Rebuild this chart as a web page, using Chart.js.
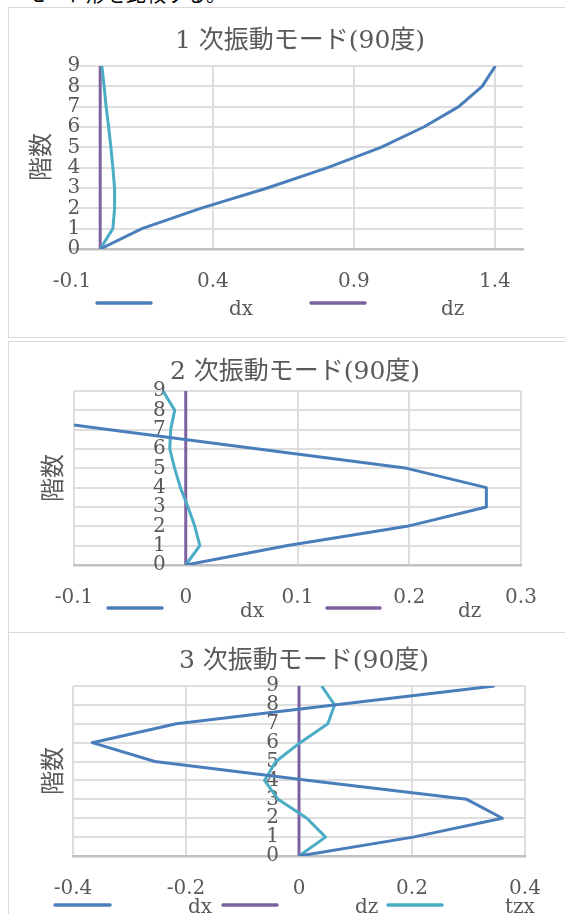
<!DOCTYPE html>
<html>
<head>
<meta charset="utf-8">
<script src="https://cdn.jsdelivr.net/npm/chart.js@4.4.1/dist/chart.umd.min.js"></script>
<style>
html, body { margin: 0; padding: 0; background: #fff; }
body { width: 565px; height: 914px; overflow: hidden; position: relative; }
.frame { position: absolute; left: 8px; width: 620px; box-sizing: border-box; border: 1px solid #d9d9d9; border-right: none; }
canvas { position: absolute; left: 8px; }
.doc { position: absolute; left: 26px; top: -16px; font: 20px "Noto Sans CJK JP"; line-height: 20px; color: #000; white-space: nowrap; }
</style>
</head>
<body>
<div class="doc">モード形を比較する。</div>
<div class="frame" style="top:7px;height:331px"></div>
<div class="frame" style="top:341px;height:292px"></div>
<div class="frame" style="top:632px;height:300px"></div>
<canvas id="c1" width="584" height="331" style="top:7px"></canvas>
<canvas id="c2" width="584" height="291" style="top:341px"></canvas>
<canvas id="c3" width="584" height="282" style="top:632px"></canvas>
<script>
// 階数 (y) and series names
const floors = [0, 1, 2, 3, 4, 5, 6, 7, 8, 9];
const floorTicks = [0, 1, 2, 3, 4, 5, 6, 7, 8, 9];
const seriesNames = ['dx', 'dz', 'tzx'];
const seriesColors = ['#4a7ebb', '#7d60a0', '#4bacc6'];

// 1次振動モード
const mode1Dx = [0, 0.148, 0.356, 0.593, 0.807, 0.996, 1.148, 1.272, 1.355, 1.402];
const mode1Dz = [0, 0, 0, 0, 0, 0, 0, 0, 0, 0];
const mode1Tzx = [0, 0.045, 0.051, 0.051, 0.045, 0.038, 0.030, 0.021, 0.014, 0.006];
const mode1XTicks = [-0.1, 0.4, 0.9, 1.4];

// 2次振動モード
const mode2Dx = [0, 0.090, 0.198, 0.269, 0.269, 0.198, 0.065, -0.068, -0.200, -0.300];
const mode2Dz = [0, 0, 0, 0, 0, 0, 0, 0, 0, 0];
const mode2Tzx = [0, 0.0126, 0.0081, 0.002, -0.0048, -0.0099, -0.0143, -0.0135, -0.0099, -0.0203];
const mode2XTicks = [-0.1, 0, 0.1, 0.2, 0.3];

// 3次振動モード
const mode3Dx = [0, 0.202, 0.360, 0.297, 0.018, -0.255, -0.366, -0.217, 0.062, 0.346];
const mode3Dz = [0, 0, 0, 0, 0, 0, 0, 0, 0, 0];
const mode3Tzx = [0, 0.047, 0.014, -0.037, -0.061, -0.041, 0.002, 0.051, 0.063, 0.040];
const mode3XTicks = [-0.4, -0.2, 0, 0.2, 0.4];

const textColor = '#595959';
const gridColor = '#dedede';

const decor = {
    id: 'decor',
    afterDraw(chart, args, opts) {
        const ctx = chart.ctx;
        ctx.save();
        ctx.fillStyle = textColor;
        ctx.textAlign = 'center';
        ctx.textBaseline = 'middle';
        ctx.font = '25px "DejaVu Serif", "Noto Sans CJK JP"';
        ctx.fillText(opts.title, opts.titleX, opts.titleY);

        ctx.save();
        ctx.translate(opts.axisX, opts.axisY);
        ctx.rotate(-Math.PI / 2);
        ctx.font = '24px "Noto Sans CJK JP"';
        ctx.fillText('階数', 0, 0);
        ctx.restore();

        ctx.font = '20px "DejaVu Serif"';
        ctx.textAlign = 'left';
        ctx.textBaseline = 'alphabetic';
        opts.legend.forEach(item => {
            const ds = chart.data.datasets[item.index];
            ctx.strokeStyle = ds.borderColor;
            ctx.lineWidth = 3.5;
            ctx.lineCap = 'round';
            ctx.beginPath();
            ctx.moveTo(item.x0, item.y);
            ctx.lineTo(item.x1, item.y);
            ctx.stroke();
            ctx.fillText(ds.label, item.tx, item.ty);
        });
        ctx.restore();
    }
};

function makeChart(id, series, xTicks, xMin, xMax, yCross, hideFirstGrid, area, deco) {
    const order = [0, 2, 1];
    const datasets = series.map((vals, i) => ({
        label: seriesNames[i],
        data: floors.map((f, k) => ({ x: vals[k], y: f })),
        showLine: true,
        borderColor: seriesColors[i],
        backgroundColor: seriesColors[i],
        borderWidth: 3,
        borderJoinStyle: 'round',
        pointRadius: 0,
        order: order[i]
    }));
    const canvas = document.getElementById(id);
    return new Chart(canvas.getContext('2d'), {
        type: 'scatter',
        data: { datasets: datasets },
        plugins: [decor],
        options: {
            responsive: false,
            animation: false,
            devicePixelRatio: 1,
            events: [],
            layout: { padding: area },
            plugins: {
                legend: { display: false },
                tooltip: { enabled: false },
                title: { display: false },
                decor: deco
            },
            scales: {
                x: {
                    type: 'linear',
                    position: 'bottom',
                    min: xMin,
                    max: xMax,
                    afterBuildTicks: s => { s.ticks = xTicks.map(v => ({ value: v })); },
                    afterFit: s => { s.height = 45; },
                    grid: {
                        color: c => (hideFirstGrid && c.index === 0) ? 'rgba(0,0,0,0)' : gridColor,
                        lineWidth: 2,
                        drawTicks: false
                    },
                    border: { display: true, color: '#c0c0c0', width: 2.5 },
                    ticks: {
                        padding: 21,
                        color: textColor,
                        font: { family: 'DejaVu Serif', size: 20 },
                        maxRotation: 0,
                        autoSkip: false,
                        callback: v => String(Math.round(v * 10) / 10)
                    }
                },
                y: {
                    type: 'linear',
                    position: { x: yCross },
                    min: 0,
                    max: 9,
                    afterBuildTicks: s => { s.ticks = floorTicks.map(v => ({ value: v })); },
                    grid: { color: gridColor, lineWidth: 2, drawTicks: false },
                    border: { display: false },
                    ticks: {
                        padding: 0,
                        color: textColor,
                        font: { family: 'DejaVu Serif', size: 20 },
                        autoSkip: false
                    }
                }
            }
        }
    });
}

makeChart('c1', [mode1Dx, mode1Dz, mode1Tzx], mode1XTicks, -0.1, 1.5, -0.071, true,
    { left: 64, right: 69, top: 59, bottom: 44 },
    {
        title: '1 次振動モード(90度)', titleX: 292, titleY: 34, axisX: 32, axisY: 150,
        legend: [
            { index: 0, x0: 89, x1: 143, y: 296, tx: 221, ty: 308 },
            { index: 1, x0: 303, x1: 357, y: 296, tx: 433, ty: 308 }
        ]
    });

makeChart('c2', [mode2Dx, mode2Dz, mode2Tzx], mode2XTicks, -0.1, 0.3, -0.018, false,
    { left: 66, right: 71, top: 50, bottom: 22 },
    {
        title: '2 次振動モード(90度)', titleX: 287, titleY: 31, axisX: 44, axisY: 137,
        legend: [
            { index: 0, x0: 100, x1: 154, y: 267, tx: 232, ty: 276 },
            { index: 1, x0: 319, x1: 372, y: 267, tx: 450, ty: 276 }
        ]
    });

makeChart('c3', [mode3Dx, mode3Dz, mode3Tzx], mode3XTicks, -0.4, 0.4, -0.0354, false,
    { left: 65, right: 67, top: 54, bottom: 13 },
    {
        title: '3 次振動モード(90度)', titleX: 296, titleY: 29, axisX: 44, axisY: 139,
        legend: [
            { index: 0, x0: 47, x1: 102, y: 273, tx: 180, ty: 281 },
            { index: 1, x0: 215, x1: 269, y: 273, tx: 347, ty: 281 },
            { index: 2, x0: 380, x1: 434, y: 273, tx: 497, ty: 281 }
        ]
    });
</script>
</body>
</html>
